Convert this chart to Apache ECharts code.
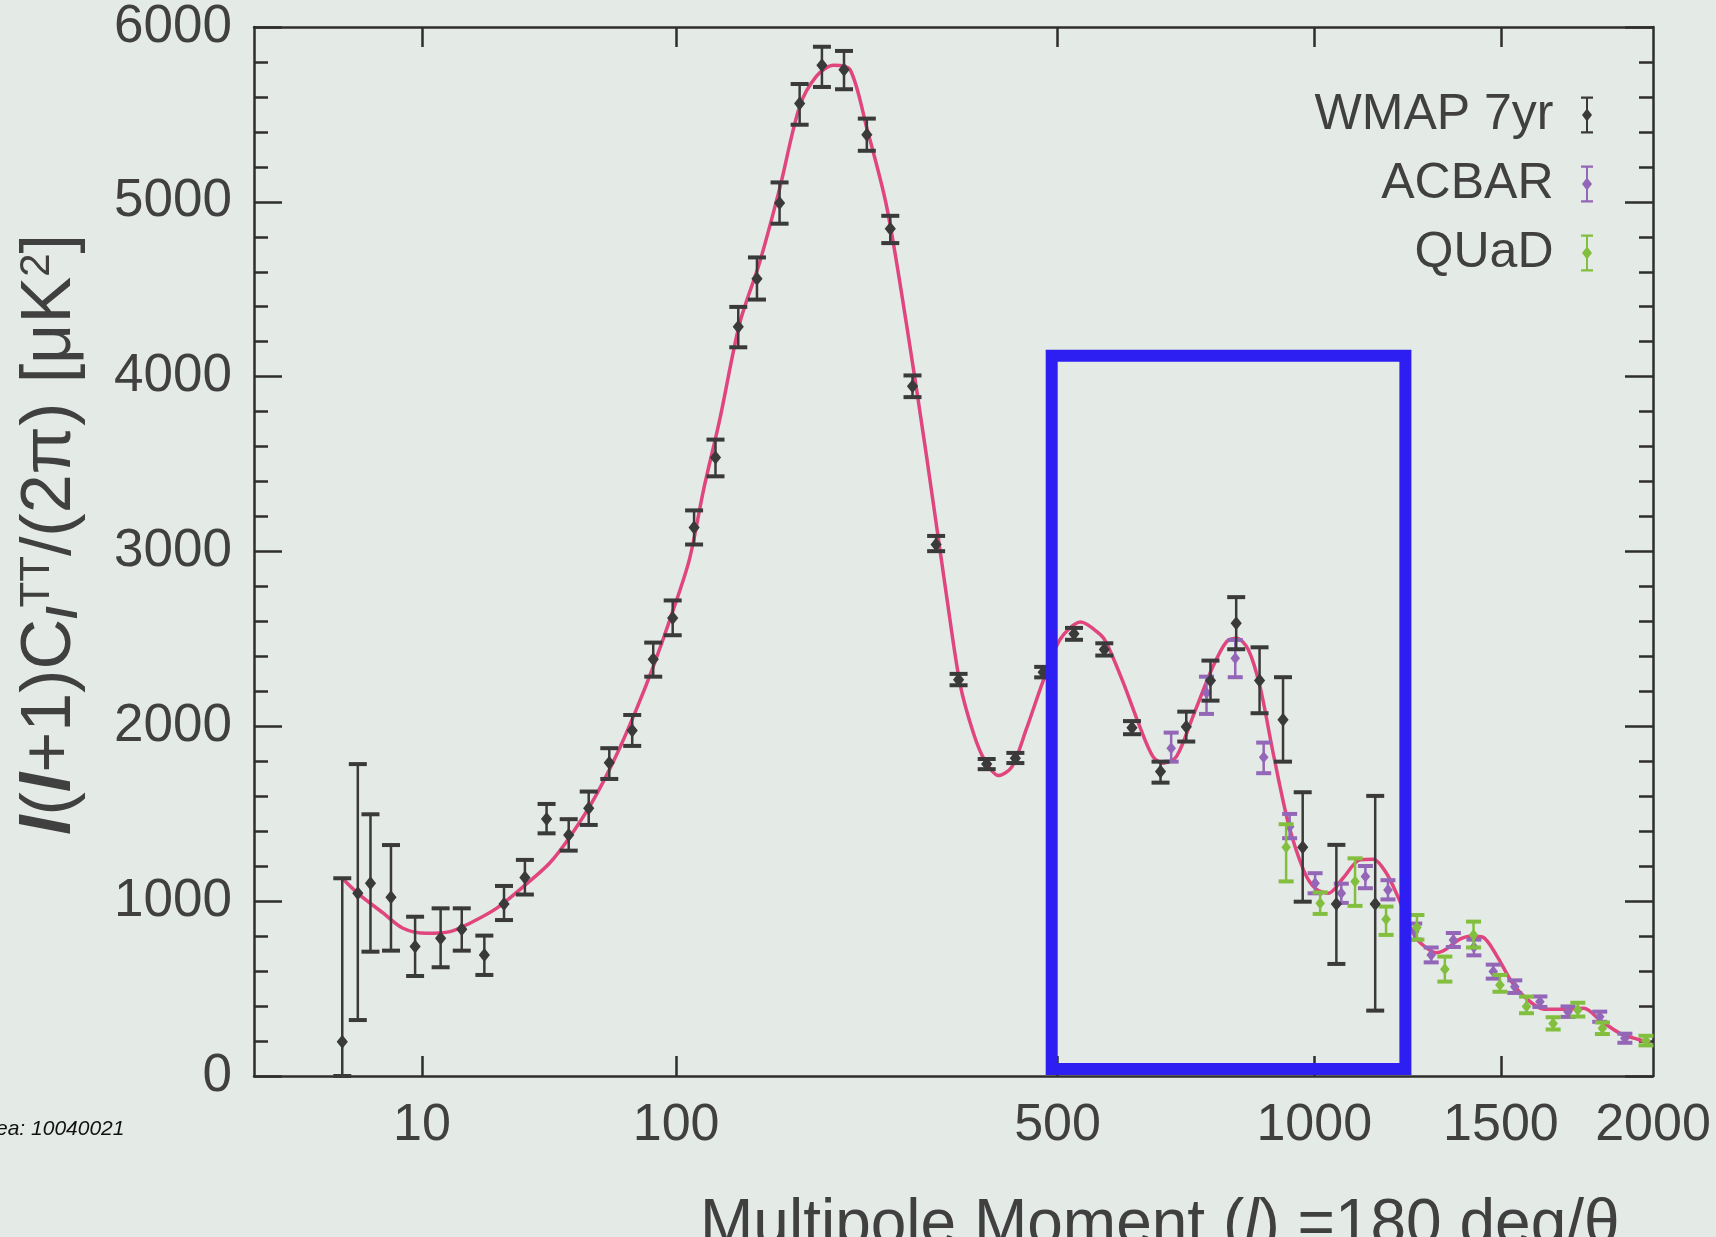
<!DOCTYPE html>
<html><head><meta charset="utf-8">
<script src="https://cdn.jsdelivr.net/npm/echarts@6/dist/echarts.min.js"></script>
<style>html,body{margin:0;padding:0;background:#e4eae6;}#c{width:1716px;height:1237px;}</style>
</head><body><div id="c"></div>
<script>
// ---- x scale: power-law multipole axis (x = l^0.4) ----
const POW = 0.4;
const L_MAX = 2000;
const xTickLabels = [10, 100, 500, 1000, 1500, 2000];
const xTickMarks = [10, 100, 500, 1000, 1500];
const yTicks = [0, 1000, 2000, 3000, 4000, 5000, 6000];

// ---- WMAP 7yr binned data: l, value, lower, upper ----
const wmapL  = [2,3,4,6,9,13,17,22,27,33,40,48,56,65,76,87,98,111,125,141,155,173,190,210,231,254,279,304,332,360,397,437,478,526,576,624,676,725,773,826,876,928,973,1053,1150];
const wmapY  = [196,1045,1102,1022,740,788,839,692,984,1135,1470,1379,1531,1792,1976,2384,2619,3137,3537,4285,4560,4994,5563,5781,5756,5384,4846,3945,3040,2267,1784,1818,2310,2529,2440,1992,1741,1998,2262,2590,2262,2037,1308,984,984];
const wmapLo = [0,320,711,717,572,622,717,578,892,1038,1388,1289,1436,1699,1888,2284,2521,3040,3430,4168,4441,4875,5441,5657,5644,5292,4764,3883,3002,2235,1755,1790,2280,2495,2405,1955,1678,1913,2147,2441,2075,1798,997,641,374];
const wmapHi = [1131,1784,1497,1321,911,959,959,803,1087,1236,1556,1469,1627,1875,2065,2479,2720,3235,3640,4399,4682,5111,5674,5887,5863,5476,4920,4007,3089,2300,1813,1848,2340,2563,2475,2030,1798,2084,2376,2739,2452,2281,1623,1322,1602];

// ---- ACBAR ----
const acbarL  = [696,765,824,885,943,1002,1065,1125,1183,1254,1299,1361,1420,1477,1542,1620,1710,1815,1901];
const acbarY  = [1875,2190,2390,1823,1426,1102,1045,1141,1064,826,692,778,736,597,511,425,368,339,216];
const acbarLo = [1798,2071,2281,1732,1360,1045,990,1074,1010,780,650,738,690,557,475,395,338,310,190];
const acbarHi = [1964,2284,2494,1907,1499,1160,1100,1201,1120,872,735,818,780,637,547,455,398,368,242];

// ---- QUaD ----
const quadL  = [935,1014,1099,1178,1260,1337,1419,1497,1578,1662,1742,1824,1975];
const quadY  = [1308,988,1112,896,850,611,807,521,397,301,378,273,202];
const quadLo = [1113,927,973,807,780,540,735,482,359,266,340,240,175];
const quadHi = [1440,1050,1245,969,921,683,883,578,454,336,419,306,230];

// ---- best-fit theory curve ----
const thL = [2,3,5.2,7.4,10.7,14.7,18.7,25,32.5,41,48.5,58,68,78,87,97,108,117,128,142,157,173,190,205,221,237,254,275,297,320,345,362,379,394,413,432,453,478,504,537,569,580,609,638,662,681,706,738,778,806,827,852,877,906,940,975,1002,1034,1069,1111,1145,1179,1209,1255,1287,1314,1340,1377,1410,1445,1489,1529,1571,1633,1697,1762,1816,1884,1954,1990];
const thY = [1131,1045,931,845,816,826,874,959,1083,1217,1369,1579,1827,2094,2342,2628,2952,3350,3759,4304,4652,5074,5545,5719,5781,5756,5421,4974,4304,3561,2741,2240,1965,1808,1719,1768,1985,2260,2497,2597,2526,2475,2247,1998,1827,1789,1827,2056,2342,2485,2504,2437,2227,1846,1445,1178,1074,1045,1131,1236,1240,1160,1026,797,731,705,725,780,800,795,683,549,454,382,382,387,320,244,206,190];

// ---- highlighted region (blue box) ----
const boxL = [491, 491, 1229, 1229, 491];
const boxY = [40, 4120, 4120, 40, 40];

const tx = l => Math.pow(l, POW);
const zip4 = (L, Y, Lo, Hi) => L.map((l, i) => [tx(l), Y[i], Lo[i], Hi[i]]);

const FONT = '"Liberation Sans", Arial, sans-serif';
const TXT = '#404040';
const AX = '#2e2e2e';
const ICON = 'path://M2,0H14V2.2H2Z M7,0H9V37H7Z M2,34.8H14V37H2Z M8,12L13,18.5L8,25L3,18.5Z';

function errRender(color, capW, s, lw) {
  return function (params, api) {
    const x = api.value(0), y = api.value(1), lo = api.value(2), hi = api.value(3);
    const p = api.coord([x, y]), pl = api.coord([x, lo]), ph = api.coord([x, hi]);
    const st = { stroke: color, lineWidth: lw };
    const cst = { stroke: color, lineWidth: lw + 1.5 };
    return {
      type: 'group',
      children: [
        { type: 'line', shape: { x1: p[0], y1: pl[1], x2: p[0], y2: ph[1] }, style: st },
        { type: 'line', shape: { x1: p[0] - capW / 2, y1: ph[1], x2: p[0] + capW / 2, y2: ph[1] }, style: cst },
        { type: 'line', shape: { x1: p[0] - capW / 2, y1: pl[1], x2: p[0] + capW / 2, y2: pl[1] }, style: cst },
        { type: 'polygon', shape: { points: [[p[0], p[1] - s], [p[0] + s * 0.8, p[1]], [p[0], p[1] + s], [p[0] - s * 0.8, p[1]]] }, style: { fill: color } }
      ]
    };
  };
}

const chart = echarts.init(document.getElementById('c'), null, { renderer: 'canvas' });
const maxU = tx(L_MAX);

const xBase = {
  type: 'value', min: 0, max: maxU,
  splitLine: { show: false },
  axisLine: { show: true, onZero: false, lineStyle: { color: AX, width: 2.5 } }
};
const yBase = {
  type: 'value', min: 0, max: 6000, interval: 1000,
  splitLine: { show: false },
  axisLine: { show: true, onZero: false, lineStyle: { color: AX, width: 2.5 } },
  axisTick: { show: true, inside: true, length: 28, lineStyle: { color: AX, width: 2.5 } },
  minorTick: { show: true, splitNumber: 5, length: 14, lineStyle: { color: AX, width: 2.5 } }
};

chart.setOption({
  backgroundColor: '#e4eae6',
  animation: false,
  grid: { left: 254, right: 63, top: 27, bottom: 161, containLabel: false },
  xAxis: [
    Object.assign({}, xBase, {
      position: 'bottom',
      axisTick: { show: true, inside: true, length: 20, customValues: xTickMarks.map(tx), lineStyle: { color: AX, width: 2.5 } },
      axisLabel: {
        show: true, customValues: xTickLabels.map(tx), margin: 24,
        fontSize: 52, color: TXT, fontFamily: FONT,
        formatter: v => String(Math.round(Math.pow(v, 1 / POW)))
      }
    }),
    Object.assign({}, xBase, {
      position: 'top',
      axisTick: { show: true, inside: true, length: 20, customValues: xTickMarks.map(tx), lineStyle: { color: AX, width: 2.5 } },
      axisLabel: { show: false }
    })
  ],
  yAxis: [
    Object.assign({}, yBase, {
      position: 'left',
      axisLabel: { show: true, margin: 22, fontSize: 53, color: TXT, fontFamily: FONT, customValues: yTicks, formatter: v => String(v) },
      name: '{i|l}({i|l}+1)C{sub|l}{sup|TT}/(2π) [μK{sup|2}]',
      nameLocation: 'middle', nameGap: 168, nameRotate: 90,
      nameTextStyle: {
        fontSize: 70, color: TXT, fontFamily: FONT, padding: [0, 0, 0, 34],
        rich: {
          i: { fontSize: 70, fontStyle: 'italic', fontWeight: 'bold', color: TXT, fontFamily: FONT },
          sub: { fontSize: 42, fontStyle: 'italic', fontWeight: 'bold', color: TXT, verticalAlign: 'bottom', fontFamily: FONT },
          sup: { fontSize: 42, color: TXT, verticalAlign: 'top', fontFamily: FONT }
        }
      }
    }),
    Object.assign({}, yBase, { position: 'right', axisLabel: { show: false } })
  ],
  legend: {
    orient: 'vertical', right: 118, top: 85, align: 'right',
    itemWidth: 21, itemHeight: 37, itemGap: 19,
    textStyle: { fontSize: 50, lineHeight: 50, color: TXT, fontFamily: FONT, padding: [0, 18, 0, 0] },
    data: [
      { name: 'WMAP 7yr', icon: ICON },
      { name: 'ACBAR', icon: ICON },
      { name: 'QUaD', icon: ICON }
    ]
  },
  series: [
    {
      name: 'Theory', type: 'line', smooth: 0.3, showSymbol: false, z: 2,
      lineStyle: { color: '#e0457d', width: 3.5 },
      data: thL.map((l, i) => [tx(l), thY[i]])
    },
    {
      name: 'WMAP 7yr', type: 'custom', z: 4,
      itemStyle: { color: '#3a3a3a' },
      renderItem: errRender('#3a3a3a', 18, 7, 2.5),
      encode: { x: 0, y: [1, 2, 3] },
      data: zip4(wmapL, wmapY, wmapLo, wmapHi)
    },
    {
      name: 'ACBAR', type: 'custom', z: 3,
      itemStyle: { color: '#9466b8' },
      renderItem: errRender('#9466b8', 15, 6, 2.5),
      encode: { x: 0, y: [1, 2, 3] },
      data: zip4(acbarL, acbarY, acbarLo, acbarHi)
    },
    {
      name: 'QUaD', type: 'custom', z: 3,
      itemStyle: { color: '#82bf3e' },
      renderItem: errRender('#82bf3e', 15, 6, 2.5),
      encode: { x: 0, y: [1, 2, 3] },
      data: zip4(quadL, quadY, quadLo, quadHi)
    },
    {
      name: 'box', type: 'line', z: 6, showSymbol: false, clip: false, silent: true,
      lineStyle: { color: '#2d1ff2', width: 12, cap: 'square', join: 'miter' },
      data: boxL.map((l, i) => [tx(l), boxY[i]])
    }
  ],
  graphic: [
    {
      type: 'text', left: 700, top: 1194, z: 10,
      style: {
        text: 'Multipole Moment ({i|l}) =180 deg/θ',
        fontSize: 64, fill: TXT, fontFamily: FONT,
        rich: { i: { fontSize: 64, fontStyle: 'italic', fill: TXT, fontFamily: FONT } }
      }
    },
    {
      type: 'text', left: -4, top: 1119, z: 10,
      style: { text: 'ea: 10040021', fontSize: 21, fontStyle: 'italic', fill: '#111', fontFamily: FONT }
    }
  ]
});
</script></body></html>
